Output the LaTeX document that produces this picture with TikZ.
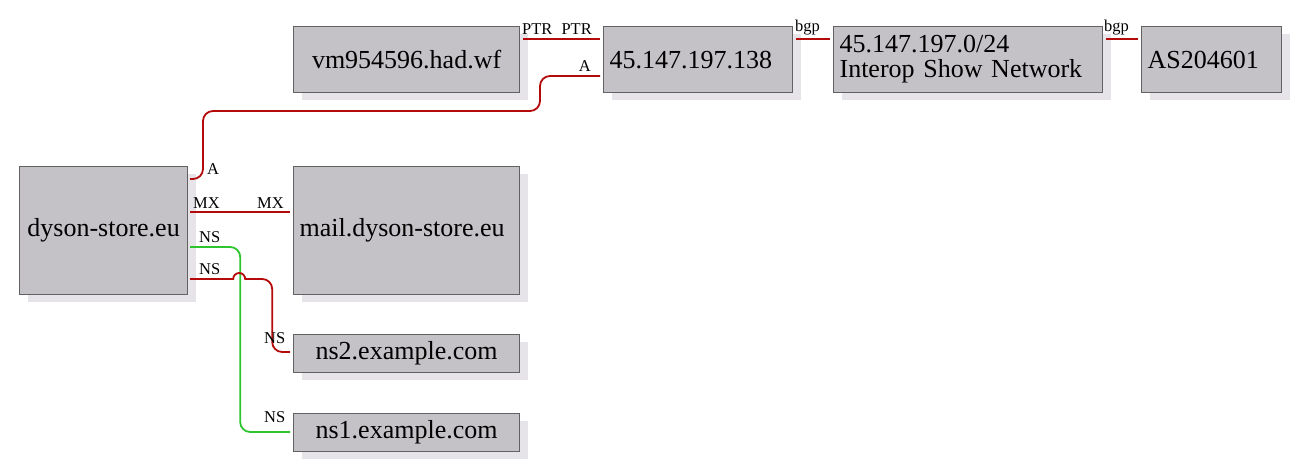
\documentclass[tikz,border=0pt]{standalone}
\usepackage{fontspec}
\setmainfont{Liberation Serif}
\usetikzlibrary{shadows,calc}
\definecolor{boxfill}{HTML}{C5C2C7}
\definecolor{boxline}{HTML}{626262}
\definecolor{shadowc}{HTML}{E6E4E8}
\definecolor{redc}{HTML}{B40A0A}
\definecolor{greenc}{HTML}{2EC42E}
\tikzset{
  box/.style={draw=boxline, line width=1.2pt, fill=boxfill, anchor=north west,
    inner ysep=0pt, inner xsep=6pt, font=\fontsize{26}{25}\selectfont,
    drop shadow={shadow xshift=8pt, shadow yshift=-7pt, fill=shadowc, opacity=1}},
  lbl/.style={inner sep=0pt, font=\fontsize{16.5}{16.5}\selectfont},
  redline/.style={draw=redc, line width=1.8pt},
  greenline/.style={draw=greenc, line width=1.8pt}
}
\begin{document}
\begin{tikzpicture}[x=1pt,y=-1pt]
\useasboundingbox[fill=white] (0,0) rectangle (1296,466);
% boxes
\node[box, minimum height=66pt, text width=214pt, align=center] (vm) at (293,26) {vm954596.had.wf};
\node[box, minimum height=66pt, text width=177pt, align=left] (ip) at (603,26) {45.147.197.138};
\node[box, minimum height=66pt, text width=257pt, align=left] (net) at (833,26) {45.147.197.0/24\\Interop Show Network};
\node[box, minimum height=66pt, text width=128pt, align=left] (as) at (1141,26) {AS204601};
\node[box, minimum height=128pt, text width=156pt, align=center] (dyson) at (19,166) {dyson-store.eu};
\node[box, minimum height=128pt, text width=214pt, align=left] (mail) at (293,166) {mail.dyson-store.eu};
\node[box, minimum height=38pt, text width=214pt, align=center] (ns2) at (293,334) {ns2.example.com};
\node[box, minimum height=38pt, text width=214pt, align=center] (ns1) at (293,413) {ns1.example.com};
% connectors
\draw[redline] ([shift={(3,13)}]vm.north east) -- ([shift={(-3,13)}]ip.north west);
\draw[redline, rounded corners=10pt] ([shift={(-3,50)}]ip.north west) -- ++(-60,0) |- (203,111) |- ([shift={(2,13)}]dyson.north east);
\draw[redline] ([shift={(3,13)}]ip.north east) -- ([shift={(-3,13)}]net.north west);
\draw[redline] ([shift={(3,13)}]net.north east) -- ([shift={(-3,13)}]as.north west);
\draw[redline] ([shift={(2,46)}]dyson.north east) -- ([shift={(-3,46)}]mail.north west);
\draw[greenline, rounded corners=10pt] ([shift={(2,81)}]dyson.north east) -- ++(50,0) |- ([shift={(-3,19)}]ns1.north west);
\draw[redline] ([shift={(2,113)}]dyson.north east) -- ++(43,0) arc[start angle=180,end angle=0,radius=6pt] [rounded corners=10pt] -- ++(27,0) |- ([shift={(-3,18)}]ns2.north west);
% labels
\node[lbl, anchor=base west] (lptr1) at (522,34) {PTR};
\node[lbl, anchor=base east] (lptr2) at (592,34) {PTR};
\node[lbl, anchor=base east] (la1) at (591,71) {A};
\node[lbl, anchor=base west] (lbgp1) at (795,31) {bgp};
\node[lbl, anchor=base west] (lbgp2) at (1104,31) {bgp};
\node[lbl, anchor=base west] (la2) at (207,174) {A};
\node[lbl, anchor=base west] (lmx1) at (193,208) {MX};
\node[lbl, anchor=base east] (lmx2) at (284,208) {MX};
\node[lbl, anchor=base west] (lns1) at (199,242) {NS};
\node[lbl, anchor=base west] (lns2) at (199,274) {NS};
\node[lbl, anchor=base west] (lns3) at (264,343) {NS};
\node[lbl, anchor=base west] (lns4) at (264,422) {NS};
\end{tikzpicture}
\end{document}
